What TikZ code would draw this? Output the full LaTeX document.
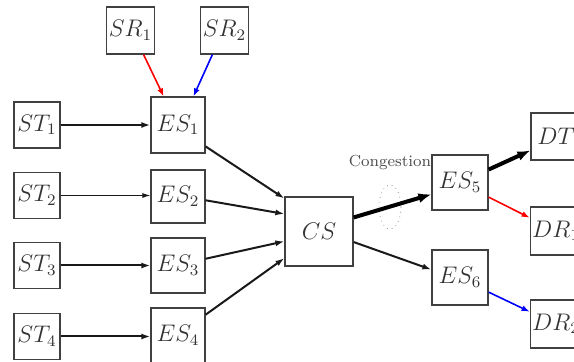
\documentclass[tikz,border=0pt]{standalone}
\usetikzlibrary{arrows.meta,calc}
\begin{document}
\begin{tikzpicture}[x=0.5pt,y=-0.5pt,
  box/.style={draw=black!75,line width=0.6pt,rectangle,inner sep=1pt,font=\large,text=black!80,anchor=center},
  lk/.style={-{Latex[length=4.5pt,width=3pt]},line width=1pt,draw=black!90},
  thin/.style={-{Latex[length=4pt,width=2.5pt]},line width=0.5pt,draw=black!90},
  heavy/.style={-{Latex[length=6.5pt,width=5pt]},line width=2pt,draw=black},
  redl/.style={-{Latex[length=4pt,width=3pt]},line width=0.8pt,draw=red},
  bluel/.style={-{Latex[length=4pt,width=3pt]},line width=0.8pt,draw=blue}]
\useasboundingbox (0,0) rectangle (574,362);
\clip (0,0) rectangle (574,362);
\node[box,minimum width=23.5pt,minimum height=23.5pt] (SR1) at (130.5,30.5) {$SR_1$};
\node[box,minimum width=23.5pt,minimum height=23.5pt] (SR2) at (224.5,30.5) {$SR_2$};
\node[box,minimum width=23pt,minimum height=23pt] (ST1) at (37,125) {$ST_1$};
\node[box,minimum width=23pt,minimum height=23pt] (ST2) at (37,195.5) {$ST_2$};
\node[box,minimum width=23pt,minimum height=23pt] (ST3) at (37,265.5) {$ST_3$};
\node[box,minimum width=23pt,minimum height=23pt] (ST4) at (37,336.5) {$ST_4$};
\node[box,minimum width=27pt,minimum height=28pt] (ES1) at (178,125) {$ES_1$};
\node[box,minimum width=27pt,minimum height=26.5pt] (ES2) at (178,196.5) {$ES_2$};
\node[box,minimum width=27pt,minimum height=27.5pt] (ES3) at (178,265.5) {$ES_3$};
\node[box,minimum width=27pt,minimum height=27.5pt] (ES4) at (178,335.5) {$ES_4$};
\node[box,minimum width=34pt,minimum height=34.5pt] (CS) at (319,231.5) {$CS$};
\node[box,minimum width=28pt,minimum height=27.5pt] (ES5) at (460,182.5) {$ES_5$};
\node[box,minimum width=28pt,minimum height=27.5pt] (ES6) at (460,277.5) {$ES_6$};
\node[box,minimum width=25pt,minimum height=23.5pt] (DT) at (556,136.5) {$DT$};
\node[box,minimum width=25pt,minimum height=24pt] (DR1) at (556,231) {$DR_1$};
\node[box,minimum width=25pt,minimum height=24pt] (DR2) at (556,324) {$DR_2$};
\node[font=\footnotesize,text=black!70,inner sep=0pt] (cong) at (390,163) {Congestion};
\draw[dotted,black!40,line width=0.4pt] (390,207) ellipse (11 and 22);
% sources to ES1
\draw[redl] ($(SR1.south west)!0.77!(SR1.south east)$) -- ($(ES1.north west)!0.24!(ES1.north east)$);
\draw[bluel] ($(SR2.south west)!0.25!(SR2.south east)$) -- ($(ES1.north west)!0.78!(ES1.north east)$);
% ST to ES
\draw[lk] (ST1) -- (ES1);
\draw[thin] (ST2) -- (ST2 -| ES2.west);
\draw[lk] (ST3) -- (ES3);
\draw[lk] (ST4) -- (ST4 -| ES4.west);
% ES to CS
\draw[lk] ($(ES1.north east)!0.875!(ES1.south east)$) -- ($(CS.north west)!0.03!(CS.south west)$);
\draw[lk] ($(ES2.north east)!0.57!(ES2.south east)$) -- ($(CS.north west)!0.25!(CS.south west)$);
\draw[lk] ($(ES3.north east)!0.38!(ES3.south east)$) -- ($(CS.north west)!0.64!(CS.south west)$);
\draw[lk] ($(ES4.north east)!0.13!(ES4.south east)$) -- ($(CS.north west)!0.88!(CS.south west)$);
% CS to ES5/ES6
\draw[heavy] ($(CS.north east)!0.3!(CS.south east)$) -- ($(ES5.north west)!0.71!(ES5.south west)$);
\draw[lk] ($(CS.north east)!0.65!(CS.south east)$) -- ($(ES6.north west)!0.36!(ES6.south west)$);
% to destinations
\draw[heavy] ($(ES5.north east)!0.27!(ES5.south east)$) -- ($(DT.north west)!0.79!(DT.south west)$);
\draw[redl] ($(ES5.north east)!0.76!(ES5.south east)$) -- ($(DR1.north west)!0.23!(DR1.south west)$);
\draw[bluel] ($(ES6.north east)!0.76!(ES6.south east)$) -- ($(DR2.north west)!0.25!(DR2.south west)$);
\end{tikzpicture}
\end{document}
